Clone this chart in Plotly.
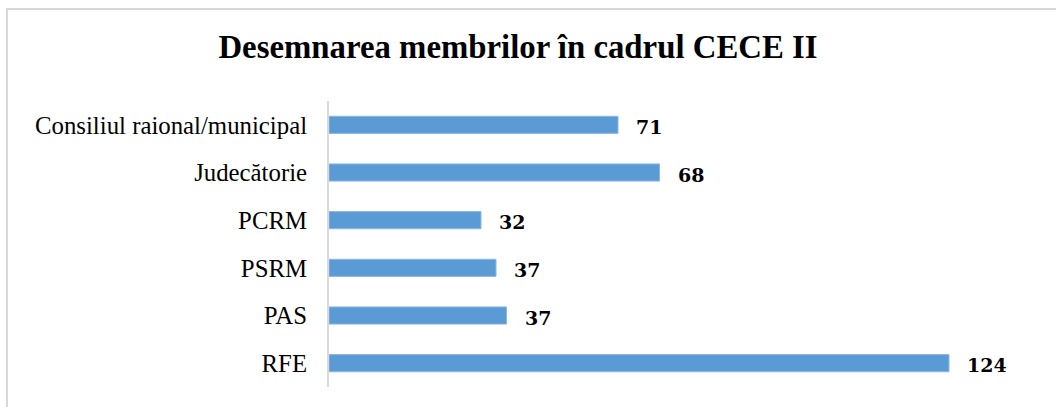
import plotly.graph_objects as go

categories = ["Consiliul raional/municipal", "Judecătorie", "PCRM", "PSRM", "PAS", "RFE"]
# bar lengths as drawn in the reference
bar_values = [57.8, 66.1, 30.4, 33.4, 35.5, 124]
# value labels as printed in the reference
label_values = [71, 68, 32, 37, 37, 124]

title_text = "Desemnarea membrilor în cadrul CECE II"
bar_color = "#5B9BD5"
serif = "'Liberation Serif', 'DejaVu Serif', serif"
label_font = "'DejaVu Serif', serif"

fig = go.Figure()
fig.add_trace(go.Bar(
    y=categories,
    x=bar_values,
    orientation="h",
    marker=dict(color=bar_color, line=dict(color="#8DB8E2", width=1)),
    width=0.36,
    hoverinfo="skip",
))

for cat, v, lab in zip(categories, bar_values, label_values):
    fig.add_annotation(
        x=v, y=cat, text=f"<b>{lab}</b>", showarrow=False,
        xanchor="left", yanchor="middle", xshift=16, yshift=-2,
        font=dict(family=label_font, size=19, color="#000000"),
    )

# outer chart border
fig.add_shape(type="rect", xref="paper", yref="paper",
              x0=(7 - 329) / 700, x1=(1062 - 329) / 700,
              y0=(387 - 412) / 286, y1=(387 - 9) / 286,
              line=dict(color="#D9D9D9", width=2), fillcolor="rgba(0,0,0,0)", layer="below")

fig.update_layout(
    width=1056, height=407,
    margin=dict(l=329, r=27, t=101, b=20),
    paper_bgcolor="white", plot_bgcolor="white",
    showlegend=False,
    title=dict(text=f"<b>{title_text}</b>", x=518 / 1056, xanchor="center",
               y=1 - 47 / 407, yanchor="middle",
               font=dict(family=serif, size=32.8, color="#000000")),
    xaxis=dict(range=[0, 140], visible=False, fixedrange=True),
    yaxis=dict(
        categoryorder="array", categoryarray=categories[::-1],
        autorange=False, range=[-0.5, 5.5],
        showline=True, linecolor="#D9D9D9", linewidth=2,
        showgrid=False, zeroline=False, ticks="",
        ticklabelstandoff=15, fixedrange=True,
        tickfont=dict(family=serif, size=24.8, color="#000000"),
    ),
)

fig.write_html("out.html", config={"displayModeBar": False},
               post_script="document.body.style.margin='0';document.body.style.overflow='hidden';")
